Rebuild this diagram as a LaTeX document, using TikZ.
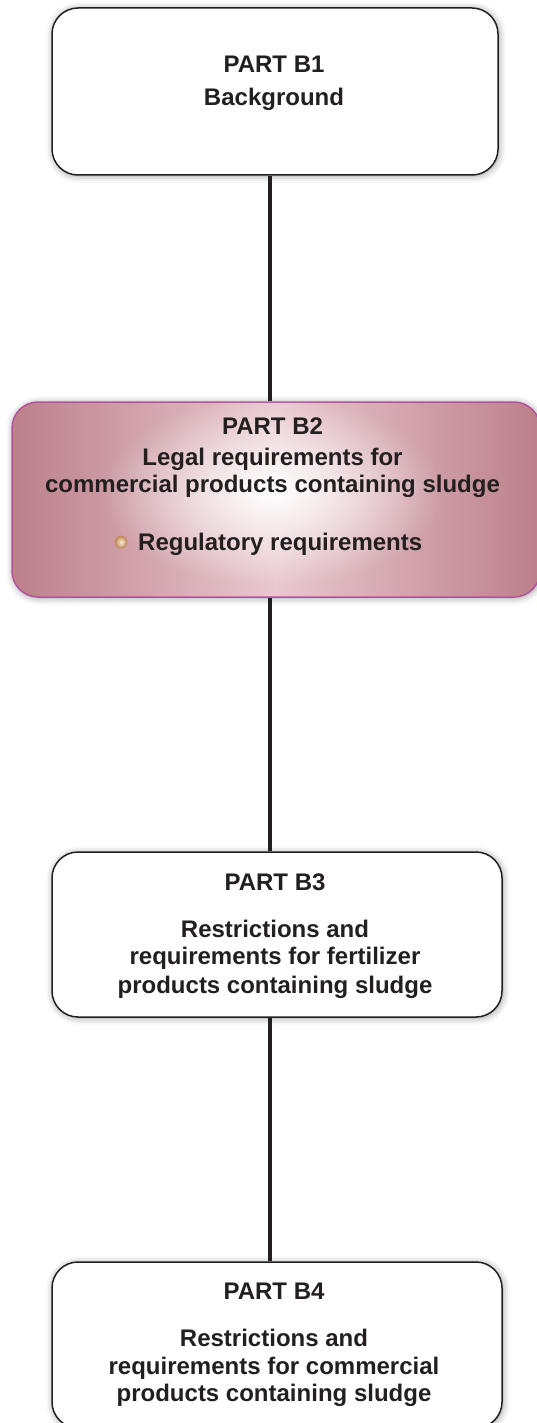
\documentclass[tikz,border=0pt]{standalone}
\usepackage{fontspec}
\setmainfont{Liberation Sans}
\usetikzlibrary{positioning,shadows.blur,fadings}
\definecolor{ink}{RGB}{35,31,32}
\definecolor{mauve}{RGB}{188,128,138}
\definecolor{blush}{RGB}{232,200,206}
\definecolor{plum}{RGB}{180,82,158}
\definecolor{beadrim}{RGB}{196,138,88}
\definecolor{beadcore}{RGB}{250,236,218}
\tikzfading[name=glowout, inner color=transparent!0, outer color=transparent!100]
\begin{document}
\begin{tikzpicture}[x=1pt,y=-1pt,
        part/.style={rounded corners=26pt, draw=ink, line width=1.5pt, fill=white,
          blur shadow={shadow xshift=1pt, shadow yshift=-1pt, shadow blur radius=7pt}},
        parttext/.style={align=center, inner sep=0pt, text=ink,
          font=\fontsize{24}{28}\selectfont\bfseries},
        bead/.style={circle, inner sep=0pt, minimum size=12pt, draw=beadrim,
          line width=0.6pt, inner color=beadcore, outer color=beadrim},
        link/.style={draw=ink, line width=3.5pt}]
  \useasboundingbox (0,0) rectangle (536,1423);
  \coordinate (spine) at (270,0);
  % the four parts
  \node[part, minimum width=446pt, minimum height=167pt] (b1) at (275,91.5) {};
  \node[part, draw=plum, left color=mauve, right color=mauve, middle color=blush,
    minimum width=528pt, minimum height=195pt] (b2) at (276,499.5) {};
  \fill[white, path fading=glowout] ([xshift=-4pt,yshift=8pt]b2.center)
    ellipse [x radius=170pt, y radius=95pt];
  \node[part, minimum width=450pt, minimum height=165pt] (b3) at (277,934.5) {};
  \node[part, minimum width=450pt, minimum height=166pt] (b4) at (277,1345) {};
  % texts
  \node[parttext, below=48.8pt of b1.north, xshift=-1pt] (b1txt)
    {PART B1\\[5pt]Background};
  \node[parttext, below=15.8pt of b2.north, xshift=-3.5pt] (b2txt)
    {PART B2\\[3pt]Legal requirements for\\[-1pt]commercial products containing sludge};
  \node[parttext, anchor=base west] (b2item) at (138,550) {Regulatory requirements};
  \node[bead] (b2dot) at (121,542) {};
  \node[parttext, below=21.8pt of b3.north, xshift=-2pt] (b3txt)
    {PART B3\\[19pt]Restrictions and\\[-1pt]requirements for fertilizer\\[1pt]products containing sludge};
  \node[parttext, below=21.8pt of b4.north, xshift=-3pt] (b4txt)
    {PART B4\\[19pt]Restrictions and\\requirements for commercial\\[-1pt]products containing sludge};
  % spine
  \draw[link] (b1.south -| spine) -- (b2.north -| spine);
  \draw[link] (b2.south -| spine) -- (b3.north -| spine);
  \draw[link] (b3.south -| spine) -- (b4.north -| spine);
\end{tikzpicture}
\end{document}
